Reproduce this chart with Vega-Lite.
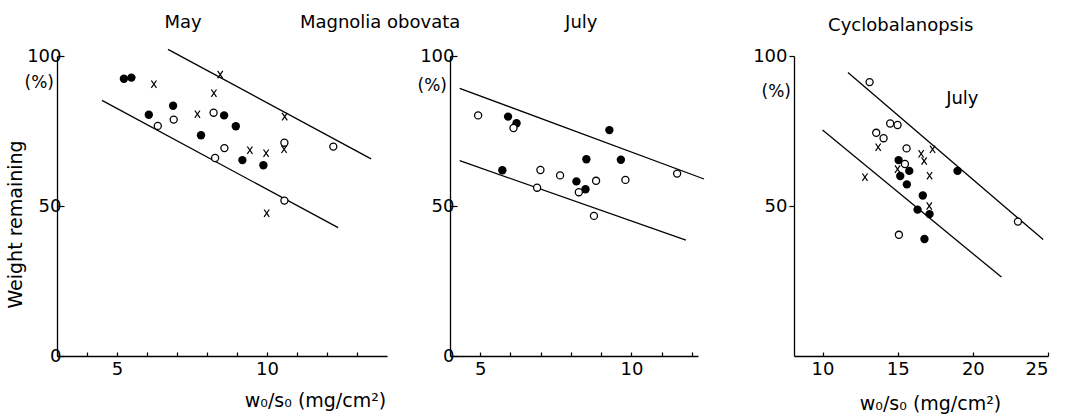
{
  "$schema": "https://vega.github.io/schema/vega-lite/v6.json",
  "background": "white",
  "padding": {"left": 6, "top": 13, "right": 5, "bottom": 3},
  "bounds": "flush",
  "spacing": 63,
  "config": {
    "font": "DejaVu Sans",
    "view": {"stroke": null},
    "axis": {
      "grid": false,
      "domainColor": "black",
      "domainWidth": 1.3,
      "tickColor": "black",
      "tickWidth": 1.2,
      "labelColor": "black",
      "labelFont": "DejaVu Sans",
      "labelFontSize": 18,
      "titleFont": "DejaVu Sans",
      "titleFontSize": 19,
      "titleFontWeight": "normal",
      "titleColor": "black"
    },
    "text": {"font": "DejaVu Sans", "fontSize": 18, "color": "black"}
  },
  "datasets": {
    "may": [
      {"x": 5.23, "y": 92.4, "type": "filled"},
      {"x": 5.48, "y": 92.8, "type": "filled"},
      {"x": 6.06, "y": 80.4, "type": "filled"},
      {"x": 6.87, "y": 83.4, "type": "filled"},
      {"x": 7.8, "y": 73.6, "type": "filled"},
      {"x": 8.57, "y": 80.2, "type": "filled"},
      {"x": 8.96, "y": 76.6, "type": "filled"},
      {"x": 9.18, "y": 65.3, "type": "filled"},
      {"x": 9.88, "y": 63.6, "type": "filled"},
      {"x": 6.36, "y": 76.7, "type": "open"},
      {"x": 6.89, "y": 78.8, "type": "open"},
      {"x": 8.22, "y": 81.1, "type": "open"},
      {"x": 8.58, "y": 69.3, "type": "open"},
      {"x": 8.27, "y": 66.0, "type": "open"},
      {"x": 10.58, "y": 71.1, "type": "open"},
      {"x": 10.58, "y": 51.8, "type": "open"},
      {"x": 12.21, "y": 69.8, "type": "open"},
      {"x": 6.23, "y": 90.6, "type": "cross"},
      {"x": 8.44, "y": 93.8, "type": "cross"},
      {"x": 8.23, "y": 87.6, "type": "cross"},
      {"x": 7.68, "y": 80.6, "type": "cross"},
      {"x": 9.43, "y": 68.6, "type": "cross"},
      {"x": 9.97, "y": 67.6, "type": "cross"},
      {"x": 10.57, "y": 68.9, "type": "cross"},
      {"x": 10.59, "y": 79.8, "type": "cross"},
      {"x": 9.99, "y": 47.6, "type": "cross"}
    ],
    "mayLines": [
      {"x": 6.7, "y": 102.2, "line": "upper"},
      {"x": 13.47, "y": 65.7, "line": "upper"},
      {"x": 4.5, "y": 85.2, "line": "lower"},
      {"x": 12.37, "y": 42.8, "line": "lower"}
    ],
    "mayText": [
      {"x": 7.2, "y": 111, "label": "May"},
      {"x": 13.77, "y": 111, "label": "Magnolia obovata"}
    ],
    "mayUnit": [{"x": 3, "y": 91, "label": "(%)"}],
    "july": [
      {"x": 4.93, "y": 80.2, "type": "open"},
      {"x": 6.1, "y": 76.0, "type": "open"},
      {"x": 6.99, "y": 62.0, "type": "open"},
      {"x": 6.88, "y": 56.1, "type": "open"},
      {"x": 7.64, "y": 60.2, "type": "open"},
      {"x": 8.26, "y": 54.6, "type": "open"},
      {"x": 8.83, "y": 58.4, "type": "open"},
      {"x": 8.76, "y": 46.7, "type": "open"},
      {"x": 9.8, "y": 58.7, "type": "open"},
      {"x": 11.51, "y": 60.8, "type": "open"},
      {"x": 5.92, "y": 79.8, "type": "filled"},
      {"x": 6.2, "y": 77.6, "type": "filled"},
      {"x": 5.73, "y": 61.9, "type": "filled"},
      {"x": 8.18, "y": 58.2, "type": "filled"},
      {"x": 8.48, "y": 55.6, "type": "filled"},
      {"x": 8.51, "y": 65.6, "type": "filled"},
      {"x": 9.27, "y": 75.3, "type": "filled"},
      {"x": 9.65, "y": 65.4, "type": "filled"}
    ],
    "julyLines": [
      {"x": 4.32, "y": 89.2, "line": "upper"},
      {"x": 12.4, "y": 59.0, "line": "upper"},
      {"x": 4.32, "y": 65.1, "line": "lower"},
      {"x": 11.8, "y": 38.6, "line": "lower"}
    ],
    "julyText": [{"x": 8.34, "y": 111, "label": "July"}],
    "julyUnit": [{"x": 4, "y": 90, "label": "(%)"}],
    "cyc": [
      {"x": 13.13, "y": 91.3, "type": "open"},
      {"x": 14.5, "y": 77.5, "type": "open"},
      {"x": 14.99, "y": 77.0, "type": "open"},
      {"x": 13.57, "y": 74.4, "type": "open"},
      {"x": 14.06, "y": 72.6, "type": "open"},
      {"x": 15.59, "y": 69.2, "type": "open"},
      {"x": 15.48, "y": 64.0, "type": "open"},
      {"x": 15.08, "y": 40.4, "type": "open"},
      {"x": 23.0, "y": 44.8, "type": "open"},
      {"x": 15.06, "y": 65.3, "type": "filled"},
      {"x": 15.77, "y": 61.7, "type": "filled"},
      {"x": 15.17, "y": 60.0, "type": "filled"},
      {"x": 15.61, "y": 57.2, "type": "filled"},
      {"x": 16.67, "y": 53.5, "type": "filled"},
      {"x": 16.32, "y": 48.8, "type": "filled"},
      {"x": 17.12, "y": 47.3, "type": "filled"},
      {"x": 16.78, "y": 39.0, "type": "filled"},
      {"x": 18.98, "y": 61.7, "type": "filled"},
      {"x": 13.7, "y": 69.6, "type": "cross"},
      {"x": 12.82, "y": 59.6, "type": "cross"},
      {"x": 16.56, "y": 67.4, "type": "cross"},
      {"x": 16.76, "y": 65.0, "type": "cross"},
      {"x": 17.32, "y": 68.9, "type": "cross"},
      {"x": 17.12, "y": 60.1, "type": "cross"},
      {"x": 17.1, "y": 50.0, "type": "cross"},
      {"x": 14.99, "y": 62.3, "type": "cross"}
    ],
    "cycLines": [
      {"x": 11.69, "y": 94.5, "line": "upper"},
      {"x": 24.68, "y": 38.8, "line": "upper"},
      {"x": 10.0, "y": 75.3, "line": "lower"},
      {"x": 21.9, "y": 26.3, "line": "lower"}
    ],
    "cycText": [
      {"x": 15.2, "y": 110, "label": "Cyclobalanopsis"},
      {"x": 19.3, "y": 85.8, "label": "July"}
    ],
    "cycUnit": [{"x": 8.1, "y": 88, "label": "(%)"}]
  },
  "resolve": {"scale": {"x": "independent", "y": "independent"}},
  "hconcat": [
    {
      "width": 330,
      "height": 300,
      "encoding": {
        "x": {"field": "x", "type": "quantitative", "scale": {"domain": [3, 14], "nice": false, "zero": false},
          "axis": {"values": [4, 5, 6, 7, 8, 9, 10, 11, 12, 13], "labelExpr": "datum.value == 5 || datum.value == 10 ? datum.label : ''", "tickSize": -4, "labelPadding": 8, "title": "w₀/s₀ (mg/cm²)", "titleX": 258, "titleY": 44, "titleBaseline": "middle"}},
        "y": {"field": "y", "type": "quantitative", "scale": {"domain": [0, 100], "nice": false},
          "axis": {"values": [0, 50, 100], "tickSize": -7, "labelPadding": 3, "title": "Weight  remaining", "titleX": -42, "titleY": 168, "titleAngle": -90, "titleAlign": "center", "titleBaseline": "middle"}}
      },
      "layer": [
        {"data": {"name": "mayLines"}, "mark": {"type": "line", "color": "black", "strokeWidth": 1.3, "clip": false}, "encoding": {"detail": {"field": "line"}}},
        {"data": {"name": "may"}, "transform": [{"filter": "datum.type == 'filled'"}], "mark": {"type": "point", "shape": "circle", "filled": true, "color": "black", "size": 70, "opacity": 1}},
        {"data": {"name": "may"}, "transform": [{"filter": "datum.type == 'open'"}], "mark": {"type": "point", "shape": "circle", "filled": false, "fill": "white", "stroke": "black", "strokeWidth": 1.3, "size": 50, "opacity": 1}},
        {"data": {"name": "may"}, "transform": [{"filter": "datum.type == 'cross'"}], "mark": {"type": "point", "shape": "M-0.7,-1L0.7,1M0.7,-1L-0.7,1", "filled": false, "stroke": "black", "strokeWidth": 1.2, "size": 55, "opacity": 1}},
        {"data": {"name": "mayText"}, "mark": {"type": "text", "fontSize": 18}, "encoding": {"text": {"field": "label"}}},
        {"data": {"name": "mayUnit"}, "mark": {"type": "text", "align": "right", "dx": -3, "fontSize": 17}, "encoding": {"text": {"field": "label"}}}
      ]
    },
    {
      "spacing": 96,
      "bounds": "flush",
      "resolve": {"scale": {"x": "independent", "y": "independent"}},
      "hconcat": [
        {
          "width": 248,
          "height": 300,
          "encoding": {
            "x": {"field": "x", "type": "quantitative", "scale": {"domain": [4, 12.2], "nice": false, "zero": false},
              "axis": {"values": [5, 6, 7, 8, 9, 10, 11, 12], "labelExpr": "datum.value == 5 || datum.value == 10 ? datum.label : ''", "tickSize": -4, "labelPadding": 8, "title": null}},
            "y": {"field": "y", "type": "quantitative", "scale": {"domain": [0, 100], "nice": false},
              "axis": {"values": [0, 50, 100], "tickSize": -7, "labelPadding": 3, "title": null}}
          },
          "layer": [
            {"data": {"name": "julyLines"}, "mark": {"type": "line", "color": "black", "strokeWidth": 1.3, "clip": false}, "encoding": {"detail": {"field": "line"}}},
            {"data": {"name": "july"}, "transform": [{"filter": "datum.type == 'filled'"}], "mark": {"type": "point", "shape": "circle", "filled": true, "color": "black", "size": 70, "opacity": 1}},
            {"data": {"name": "july"}, "transform": [{"filter": "datum.type == 'open'"}], "mark": {"type": "point", "shape": "circle", "filled": false, "fill": "white", "stroke": "black", "strokeWidth": 1.3, "size": 50, "opacity": 1}},
            {"data": {"name": "julyText"}, "mark": {"type": "text", "fontSize": 18}, "encoding": {"text": {"field": "label"}}},
            {"data": {"name": "julyUnit"}, "mark": {"type": "text", "align": "right", "dx": -3, "fontSize": 17}, "encoding": {"text": {"field": "label"}}}
          ]
        },
        {
          "width": 254,
          "height": 300,
          "encoding": {
            "x": {"field": "x", "type": "quantitative", "scale": {"domain": [8.1, 25], "nice": false, "zero": false},
              "axis": {"values": [10, 15, 20, 25], "tickSize": -4, "labelPadding": 8, "title": "w₀/s₀ (mg/cm²)", "titleX": 136, "titleY": 47, "titleBaseline": "middle"}},
            "y": {"field": "y", "type": "quantitative", "scale": {"domain": [0, 100], "nice": false},
              "axis": {"values": [50, 100], "tickSize": 5, "labelPadding": 2, "title": null}}
          },
          "layer": [
            {"data": {"name": "cycLines"}, "mark": {"type": "line", "color": "black", "strokeWidth": 1.3, "clip": false}, "encoding": {"detail": {"field": "line"}}},
            {"data": {"name": "cyc"}, "transform": [{"filter": "datum.type == 'filled'"}], "mark": {"type": "point", "shape": "circle", "filled": true, "color": "black", "size": 70, "opacity": 1}},
            {"data": {"name": "cyc"}, "transform": [{"filter": "datum.type == 'open'"}], "mark": {"type": "point", "shape": "circle", "filled": false, "fill": "white", "stroke": "black", "strokeWidth": 1.3, "size": 50, "opacity": 1}},
            {"data": {"name": "cyc"}, "transform": [{"filter": "datum.type == 'cross'"}], "mark": {"type": "point", "shape": "M-0.7,-1L0.7,1M0.7,-1L-0.7,1", "filled": false, "stroke": "black", "strokeWidth": 1.2, "size": 55, "opacity": 1}},
            {"data": {"name": "cycText"}, "mark": {"type": "text", "fontSize": 18}, "encoding": {"text": {"field": "label"}}},
            {"data": {"name": "cycUnit"}, "mark": {"type": "text", "align": "right", "dx": -3, "fontSize": 17}, "encoding": {"text": {"field": "label"}}}
          ]
        }
      ]
    }
  ]
}
